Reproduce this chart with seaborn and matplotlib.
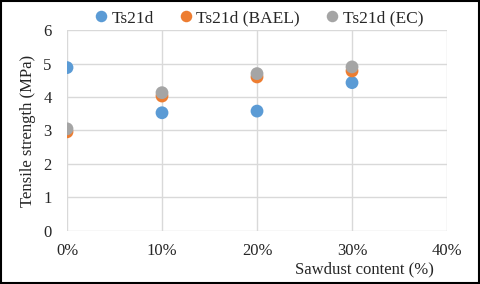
import pandas as pd
import seaborn as sns
import matplotlib.pyplot as plt
from matplotlib.patches import Rectangle
from matplotlib.ticker import FuncFormatter

# Sawdust content (%) and tensile strength at 21 days (MPa)
sawdust = [0, 10, 20, 30]
ts21d = [4.88, 3.53, 3.58, 4.43]
ts21d_bael = [2.96, 4.03, 4.60, 4.78]
ts21d_ec = [3.05, 4.13, 4.70, 4.90]
series_names = ["Ts21d", "Ts21d (BAEL)", "Ts21d (EC)"]
colors = ["#5B9BD5", "#ED7D31", "#A5A5A5"]

df = pd.concat([
    pd.DataFrame({"Sawdust": sawdust, "Strength": vals, "Series": name})
    for name, vals in zip(series_names, [ts21d, ts21d_bael, ts21d_ec])
], ignore_index=True)

sns.set_style("white")
plt.rcParams["font.family"] = ["Liberation Serif", "DejaVu Serif"]

fig = plt.figure(figsize=(4.8, 2.84), dpi=100)
ax = fig.add_axes([0.1396, 0.187, 0.7917, 0.707])

sns.scatterplot(data=df, x="Sawdust", y="Strength", hue="Series",
                palette=colors, s=85, edgecolor="none", ax=ax, zorder=3,
                legend=True)

ax.set_xlim(0, 40)
ax.set_ylim(0, 6)
ax.set_xticks([0, 10, 20, 30, 40])
ax.set_yticks(range(0, 7))
ax.xaxis.set_major_formatter(FuncFormatter(lambda v, p: f"{v:.0f}%"))
ax.grid(True, color="#D9D9D9", linewidth=1)
for s in ax.spines.values():
    s.set_visible(False)
ax.tick_params(axis="both", length=0, labelsize=12, colors="#262626")
ax.tick_params(axis="x", pad=9)
ax.tick_params(axis="y", pad=11)

ax.set_xlabel("")
ax.set_ylabel("Tensile strength (MPa)", fontsize=12, color="#262626", labelpad=5)
fig.text(0.76, 0.05, "Sawdust content (%)", fontsize=12, color="#262626",
         ha="center", va="center")

handles, labels = ax.get_legend_handles_labels()
ax.legend(handles, labels, loc="center", bbox_to_anchor=(0.537, 0.935),
          bbox_transform=fig.transFigure, ncol=3, frameon=False,
          fontsize=12.5, handlelength=1.0, handletextpad=0.1,
          columnspacing=1.35, markerscale=0.9)

fig.patches.append(Rectangle((0.003, 0.004), 0.994, 0.992, transform=fig.transFigure,
                             fill=False, edgecolor="black", linewidth=1.5))

fig.savefig("out.png", dpi=100)
